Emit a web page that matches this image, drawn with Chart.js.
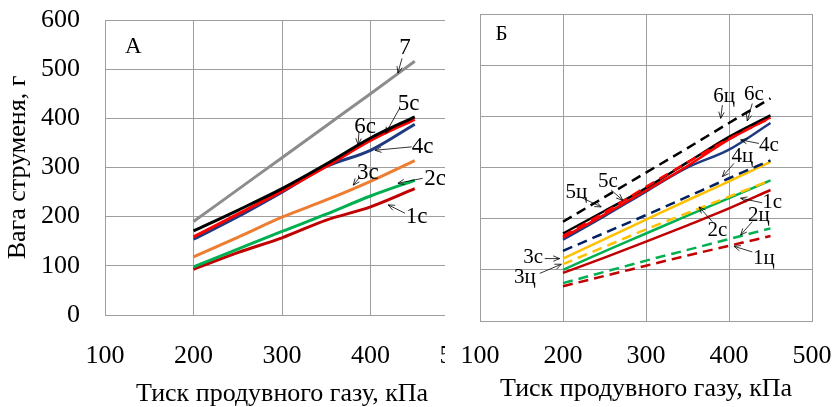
<!DOCTYPE html>
<html>
<head>
<meta charset="utf-8">
<script src="https://cdn.jsdelivr.net/npm/chart.js@4.4.1/dist/chart.umd.min.js"></script>
<style>
  html, body { margin: 0; padding: 0; background: #fff; }
  #wrapA { position: absolute; left: 0; top: 0; width: 445px; height: 407px; overflow: hidden; }
  #wrapB { position: absolute; left: 445px; top: 0; width: 387px; height: 407px; }
</style>
</head>
<body>
<div id="wrapA"><canvas id="chartA" width="480" height="407"></canvas></div>
<div id="wrapB"><canvas id="chartB" width="387" height="407"></canvas></div>
<script>
// тиск продувного газу, кПа
const pressure = [200, 250, 300, 350, 400, 450];

// панель А — вага струменя, г
const a7  = [190, 255, 320, 385, 450, 516];
const a6c = [171, 213, 257, 307, 360, 403];
const a5c = [159, 205, 252, 302, 355, 398];
const a4c = [154, 200, 250, 302, 335, 388];
const a3c = [118, 158, 199, 234, 272, 314];
const a2c = [98, 134, 170, 205, 242, 274];
const a1c = [93, 127, 157, 193, 220, 257];

// панель Б
const b6q = [194, 242, 290, 338, 387, 435];
const b6c = [171, 215, 260, 310, 360, 402];
const b5q = [166, 212, 262, 310, 356, 397];
const b5c = [163, 208, 255, 303, 355, 398];
const b4c = [159, 205, 253, 300, 335, 387];
const b4q = [137, 172, 207, 243, 279, 314];
const b3c = [122, 160, 198, 236, 273, 311];
const b3q = [111, 145, 179, 211, 243, 275];
const b2c = [100, 136, 171, 206, 240, 275];
const b1c = [94, 124, 155, 187, 220, 256];
const b2q = [74, 96, 118, 139, 160, 181];
const b1q = [68, 88, 108, 128, 147, 166];

const xTicks = [100, 200, 300, 400, 500];
const yTicks = [0, 100, 200, 300, 400, 500, 600];

// підписи кривих: текст, положення тексту, початок і кінець стрілки (в одиницях осей)
const notesA = [
  ['А', 132, 545],
  ['7', 439, 543, 435.6, 522, 431, 492],
  ['5c', 443, 429, 433, 421, 417, 369],
  ['6c', 394, 383, 387, 374, 386, 346],
  ['4c', 459, 342, 446.5, 342, 405, 335],
  ['3c', 397, 288, 388, 281, 380.5, 264],
  ['2c', 473, 276, 459, 278, 431, 268],
  ['1c', 452, 200, 439, 207, 420, 224]
];
const notesB = [
  ['Б', 126, 559],
  ['6ц', 394, 438, 392, 422, 390, 396],
  ['6c', 430, 442, 428, 425, 422, 391],
  ['4c', 448, 344, 436, 347, 414, 354],
  ['4ц', 416, 321, 406, 308, 392, 282],
  ['5c', 254, 272, 258, 256, 272, 236],
  ['5ц', 216, 252, 220, 243, 246, 223],
  ['1c', 452, 231, 440, 231, 414, 240],
  ['2ц', 436, 207, 428, 194, 414, 168],
  ['2c', 386, 177, 380, 194, 364, 223],
  ['1ц', 442, 122, 428, 135, 406, 146],
  ['3c', 164, 125, 178, 122, 196, 122],
  ['3ц', 154, 86, 172, 93, 198, 111]
];

const SERIF = '"Liberation Serif", "Times New Roman", serif';
const GRID = '#9e9e9e';

function pts(vals) { return vals.map((v, i) => ({ x: pressure[i], y: v })); }
function line(label, vals, color, width, dash) {
  return { label, data: pts(vals), borderColor: color, backgroundColor: color, borderWidth: width,
    borderDash: dash || [], pointRadius: 0, fill: false, cubicInterpolationMode: 'monotone' };
}

const notesPlugin = {
  id: 'notes',
  afterDatasetsDraw(chart, args, opts) {
    const { ctx, scales: { x, y } } = chart;
    ctx.save();
    ctx.font = opts.size + 'px ' + SERIF;
    ctx.fillStyle = '#000';
    ctx.strokeStyle = '#000';
    ctx.lineWidth = 0.8;
    ctx.textAlign = 'center';
    ctx.textBaseline = 'middle';
    opts.items.forEach(n => {
      ctx.fillText(n[0], x.getPixelForValue(n[1]), y.getPixelForValue(n[2]));
      if (n.length < 7) return;
      const x0 = x.getPixelForValue(n[3]), y0 = y.getPixelForValue(n[4]);
      const x1 = x.getPixelForValue(n[5]), y1 = y.getPixelForValue(n[6]);
      const ang = Math.atan2(y1 - y0, x1 - x0);
      ctx.beginPath();
      ctx.moveTo(x0, y0); ctx.lineTo(x1, y1);
      ctx.moveTo(x1 - 7 * Math.cos(ang - 0.4), y1 - 7 * Math.sin(ang - 0.4));
      ctx.lineTo(x1, y1);
      ctx.lineTo(x1 - 7 * Math.cos(ang + 0.4), y1 - 7 * Math.sin(ang + 0.4));
      ctx.stroke();
    });
    ctx.restore();
  }
};

// tick padding would otherwise leak into the layout padding
function noPad(s) { s.paddingLeft = s.paddingRight = s.paddingTop = s.paddingBottom = 0; }

function axes(cfg) {
  return {
    x: {
      type: 'linear', min: 100, max: 500,
      afterBuildTicks: s => { s.ticks = xTicks.map(v => ({ value: v })); },
      afterFit: s => { s.height = cfg.xHeight; noPad(s); },
      grid: { color: GRID, lineWidth: 1, drawTicks: false },
      border: { color: GRID },
      ticks: { padding: cfg.xPad, color: '#000', maxRotation: 0, font: { family: SERIF, size: 26 } },
      title: { display: true, text: 'Тиск продувного газу, кПа', color: '#000',
        padding: { top: 0, bottom: cfg.titlePad }, font: { family: SERIF, size: cfg.titleSize, lineHeight: 1 } }
    },
    y: {
      min: 0, max: 600,
      afterBuildTicks: s => { s.ticks = yTicks.map(v => ({ value: v })); },
      afterFit: s => { s.width = cfg.yWidth; noPad(s); },
      grid: { color: GRID, lineWidth: 1, drawTicks: false },
      border: { color: GRID },
      ticks: { display: cfg.yLabels, padding: 25, color: '#000', font: { family: SERIF, size: 26 } },
      title: { display: cfg.yLabels, text: 'Вага струменя, г', color: '#000',
        padding: { top: 5, bottom: 0 }, font: { family: SERIF, size: 26, lineHeight: 1 } }
    }
  };
}

function baseOptions(cfg, notes, noteSize) {
  return {
    responsive: false,
    animation: false,
    layout: { padding: cfg.padding },
    scales: axes(cfg),
    plugins: { legend: { display: false }, tooltip: { enabled: false }, notes: { items: notes, size: noteSize } }
  };
}

new Chart(document.getElementById('chartA'), {
  type: 'line',
  data: { datasets: [
    line('7', a7, '#8c8c8c', 3),
    line('6c', a6c, '#000000', 3),
    line('5c', a5c, '#ff0000', 3),
    line('4c', a4c, '#1f3a80', 3),
    line('3c', a3c, '#ed7d31', 3),
    line('2c', a2c, '#00b050', 3),
    line('1c', a1c, '#c00000', 3)
  ]},
  options: baseOptions({ padding: { left: 0, right: 21, top: 20, bottom: 0 }, xHeight: 92, yWidth: 105,
    xPad: 26, titlePad: 0, titleSize: 26, yLabels: true }, notesA, 23),
  plugins: [notesPlugin]
});

new Chart(document.getElementById('chartB'), {
  type: 'line',
  data: { datasets: [
    line('5ц', b5q, '#ff0000', 2.5, [10, 6]),
    line('6ц', b6q, '#000000', 2.5, [10, 6]),
    line('6c', b6c, '#000000', 2.5),
    line('5c', b5c, '#ff0000', 2.5),
    line('4c', b4c, '#1f3a80', 2.5),
    line('4ц', b4q, '#002060', 2.5, [10, 6]),
    line('3c', b3c, '#ffc000', 2.5),
    line('3ц', b3q, '#ffc000', 2.5, [10, 6]),
    line('2c', b2c, '#00b050', 2.5),
    line('1c', b1c, '#c00000', 2.5),
    line('2ц', b2q, '#00b050', 2.5, [10, 6]),
    line('1ц', b1q, '#c00000', 2.5, [10, 6])
  ]},
  options: baseOptions({ padding: { left: 0, right: 20, top: 14, bottom: 0 }, xHeight: 86, yWidth: 35,
    xPad: 20, titlePad: 5, titleSize: 26, yLabels: false }, notesB, 21),
  plugins: [notesPlugin]
});
</script>
</body>
</html>
